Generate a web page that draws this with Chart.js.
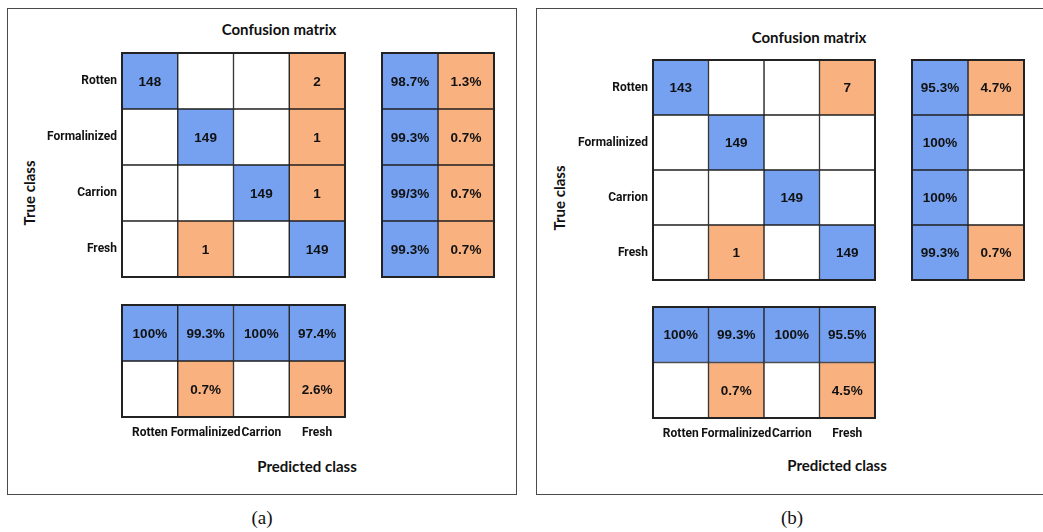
<!DOCTYPE html>
<html>
<head>
<meta charset="utf-8">
<script src="https://cdn.jsdelivr.net/npm/chart.js@4/dist/chart.umd.min.js"></script>
<style>
  body { margin: 0; width: 1043px; height: 532px; overflow: hidden; background: #fff; position: relative; }
  .frame { position: absolute; border: 1.5px solid #4a4a4a; box-sizing: border-box; }
  .txt { position: absolute; transform: translate(-50%, -50%); white-space: nowrap; color: #111; }
  .head { font: bold 15px Lato, sans-serif; }
  .cap { font: 19px "Liberation Serif", serif; }
  canvas { position: absolute; }
</style>
</head>
<body>
<div class="frame" style="left:7px;top:8px;width:510px;height:487px"></div>
<div class="frame" style="left:536px;top:8px;width:520px;height:487px"></div>

<div class="txt head" style="left:279px;top:29px">Confusion matrix</div>
<div class="txt head" style="left:29px;top:193px;transform:translate(-50%,-50%) rotate(-90deg)">True class</div>
<div class="txt head" style="left:307px;top:466px">Predicted class</div>
<div class="txt cap" style="left:262px;top:518px">(a)</div>

<div class="txt head" style="left:809px;top:37px">Confusion matrix</div>
<div class="txt head" style="left:559px;top:198px;transform:translate(-50%,-50%) rotate(-90deg)">True class</div>
<div class="txt head" style="left:837px;top:465px">Predicted class</div>
<div class="txt cap" style="left:792px;top:518px">(b)</div>

<script>
const classes = ['Rotten', 'Formalinized', 'Carrion', 'Fresh'];
const summaryRows = ['rate', 'error'];

// counts: rows = true class, cols = predicted class
const countsA = [
    [148, 0, 0, 2],
    [0, 149, 0, 1],
    [0, 0, 149, 1],
    [0, 1, 0, 149]
];
const rowRateA = ['98.7%', '99.3%', '99/3%', '99.3%'];
const rowErrA = ['1.3%', '0.7%', '0.7%', '0.7%'];
const colRateA = ['100%', '99.3%', '100%', '97.4%'];
const colErrA = ['', '0.7%', '', '2.6%'];

const countsB = [
    [143, 0, 0, 7],
    [0, 149, 0, 0],
    [0, 0, 149, 0],
    [0, 1, 0, 149]
];
const rowRateB = ['95.3%', '100%', '100%', '99.3%'];
const rowErrB = ['4.7%', '', '', '0.7%'];
const colRateB = ['100%', '99.3%', '100%', '95.5%'];
const colErrB = ['', '0.7%', '', '4.5%'];

const BLUE = '#75a1f0';
const ORANGE = '#f9b17f';
const LINE = '#222';
const labelFont = { family: 'Roboto, sans-serif', weight: 'bold', size: 12 };

// writes each cell's text in the middle of its bar
const cellText = {
    id: 'cellText',
    afterDatasetsDraw(chart) {
        const ctx = chart.ctx;
        ctx.save();
        ctx.font = 'bold 13.5px "Liberation Sans", Arial, sans-serif';
        ctx.fillStyle = '#111';
        ctx.textAlign = 'center';
        ctx.textBaseline = 'middle';
        chart.data.datasets.forEach((ds, d) => {
            chart.getDatasetMeta(d).data.forEach((bar, i) => {
                const t = ds.texts[i];
                if (t === '' || t === 0) return;
                const p = bar.getCenterPoint();
                ctx.fillText(String(t), p.x, p.y + 1);
            });
        });
        // heavier outline round the whole block
        const a = chart.chartArea;
        ctx.strokeStyle = LINE;
        ctx.lineWidth = 2;
        ctx.strokeRect(a.left, a.top, a.right - a.left, a.bottom - a.top);
        ctx.restore();
    }
};

function makeCanvas(box, padLeft, padBottom) {
    const cv = document.createElement('canvas');
    cv.width = box.w + padLeft + 4;
    cv.height = box.h + padBottom + 4;
    cv.style.left = (box.x - padLeft - 2) + 'px';
    cv.style.top = (box.y - 2) + 'px';
    document.body.appendChild(cv);
    return cv;
}

// fixed axis size, and no extra room for the outer labels
function fixSize(prop, val) {
    return s => {
        s[prop] = val;
        s.paddingTop = s.paddingBottom = s.paddingLeft = s.paddingRight = 0;
    };
}

function barStyle() {
    return {
        borderColor: LINE,
        borderWidth: 1,
        borderSkipped: false,
        barPercentage: 1,
        categoryPercentage: 1,
        grouped: false
    };
}

const baseOpts = {
    responsive: false,
    animation: false,
    layout: { padding: 2 },
    plugins: { legend: { display: false }, tooltip: { enabled: false } }
};

// 4x4 grid, horizontal floating bars: one dataset per predicted column
function drawMatrix(box, counts) {
    const cv = makeCanvas(box, 80, 0);
    const datasets = classes.map((c, j) => Object.assign({
        label: c,
        data: classes.map(() => [j, j + 1]),
        texts: counts.map(row => row[j]),
        backgroundColor: counts.map((row, i) => row[j] === 0 ? '#fff' : (i === j ? BLUE : ORANGE))
    }, barStyle()));
    new Chart(cv, {
        type: 'bar',
        data: { labels: classes, datasets: datasets },
        plugins: [cellText],
        options: Object.assign({}, baseOpts, {
            indexAxis: 'y',
            scales: {
                x: { display: false, min: 0, max: classes.length },
                y: {
                    grid: { display: false, drawTicks: false },
                    border: { display: false },
                    ticks: { color: '#111', font: labelFont, padding: 5 },
                    afterFit: fixSize('width', 80)
                }
            }
        })
    });
}

// per-true-class rate / error, two columns beside the grid
function drawRowSummary(box, rate, err) {
    const cv = makeCanvas(box, 0, 0);
    const cols = [rate, err];
    const datasets = cols.map((vals, j) => Object.assign({
        label: summaryRows[j],
        data: classes.map(() => [j, j + 1]),
        texts: vals,
        backgroundColor: vals.map(v => v === '' ? '#fff' : (j === 0 ? BLUE : ORANGE))
    }, barStyle()));
    new Chart(cv, {
        type: 'bar',
        data: { labels: classes, datasets: datasets },
        plugins: [cellText],
        options: Object.assign({}, baseOpts, {
            indexAxis: 'y',
            scales: {
                x: { display: false, min: 0, max: 2 },
                y: { display: false }
            }
        })
    });
}

// per-predicted-class rate / error, two rows under the grid, with class names below
function drawColSummary(box, rate, err) {
    const cv = makeCanvas(box, 0, 28);
    const rows = [rate, err];
    const datasets = rows.map((vals, r) => Object.assign({
        label: summaryRows[r],
        data: classes.map(() => [r, r + 1]),
        texts: vals,
        backgroundColor: vals.map(v => v === '' ? '#fff' : (r === 0 ? BLUE : ORANGE))
    }, barStyle()));
    new Chart(cv, {
        type: 'bar',
        data: { labels: classes, datasets: datasets },
        plugins: [cellText],
        options: Object.assign({}, baseOpts, {
            scales: {
                y: { display: false, min: 0, max: 2, reverse: true },
                x: {
                    grid: { display: false, drawTicks: false },
                    border: { display: false },
                    ticks: { color: '#111', font: labelFont, padding: 9, maxRotation: 0, autoSkip: false },
                    afterFit: fixSize('height', 28)
                }
            }
        })
    });
}

drawMatrix({ x: 122, y: 53, w: 223, h: 224 }, countsA);
drawRowSummary({ x: 382, y: 53, w: 112, h: 224 }, rowRateA, rowErrA);
drawColSummary({ x: 122, y: 305, w: 223, h: 112 }, colRateA, colErrA);

drawMatrix({ x: 653, y: 60, w: 222, h: 220 }, countsB);
drawRowSummary({ x: 912, y: 60, w: 112, h: 220 }, rowRateB, rowErrB);
drawColSummary({ x: 653, y: 307, w: 222, h: 111 }, colRateB, colErrB);
</script>
</body>
</html>
